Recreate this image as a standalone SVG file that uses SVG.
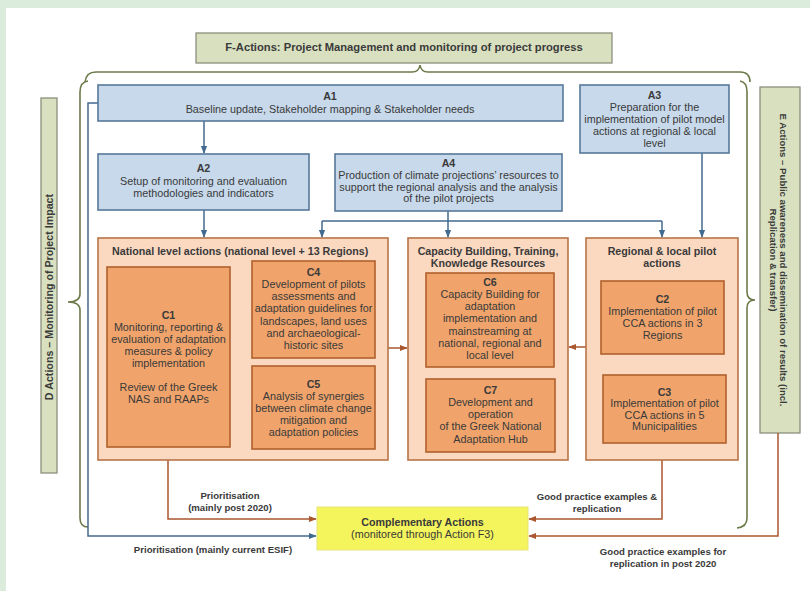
<svg xmlns="http://www.w3.org/2000/svg" width="810" height="591" viewBox="0 0 810 591">
<style>
text{font-family:"Liberation Sans",Arial,sans-serif;font-size:10.8px;fill:#3a3a3a;text-anchor:middle}
.b{font-weight:bold;font-size:10.7px}
.s{font-weight:bold;font-size:9.6px}
.l{text-anchor:start}
.blue{fill:#c7d9eb;stroke:#56789a;stroke-width:1.6}
.panel{fill:#fbd9c0;stroke:#b97448;stroke-width:1.6}
.inner{fill:#f0a46b;stroke:#b0602c;stroke-width:1.6}
.olive{fill:#d8e0bf;stroke:#8c8f7c;stroke-width:1.3}
.comp{fill:#f4f45c;stroke:#e6e67a;stroke-width:1}
.brace{fill:none;stroke:#6d7b4b;stroke-width:1.6}
.cb{fill:none;stroke:#42698f;stroke-width:1.5}
.cr{fill:none;stroke:#a9572e;stroke-width:1.5}
</style>
<defs>
<marker id="ab" viewBox="0 0 10 10" refX="9" refY="5" markerWidth="8" markerHeight="8" markerUnits="userSpaceOnUse" orient="auto-start-reverse"><path d="M0,1 L10,5 L0,9 z" fill="#42698f"/></marker>
<marker id="ar" viewBox="0 0 10 10" refX="9" refY="5" markerWidth="8" markerHeight="8" markerUnits="userSpaceOnUse" orient="auto-start-reverse"><path d="M0,1 L10,5 L0,9 z" fill="#a9572e"/></marker>
</defs>
<rect x="0" y="0" width="810" height="591" fill="#dcecdc"/>
<rect x="6" y="8" width="804" height="583" fill="#ffffff"/>

<g id="braces">
<path class="brace" d="M85,82 Q86,72 96,72 L412,72 Q419,72 420,65 Q421,72 428,72 L740,72 Q750,72 750,82"/>
<path class="brace" d="M88,81 Q80,82 80,92 L80,294 Q80,302 68,302 Q80,302 80,310 L80,518 Q80,527 88,527"/>
<path class="brace" d="M740,81 Q747,82 747,92 L747,292 Q747,300 755,300 Q747,300 747,308 L747,518 Q747,527 737,528"/>
</g>

<g id="F">
<rect class="olive" x="196" y="33" width="416" height="30"/>
<text class="b" x="404" y="51" style="font-size:11.2px">F-Actions: Project Management and monitoring of project progress</text>
</g>
<g id="D">
<rect class="olive" x="41" y="98" width="16" height="375"/>
<text class="b" transform="translate(53,297) rotate(-90)">D Actions – Monitoring of Project Impact</text>
</g>
<g id="E">
<rect class="olive" x="760" y="87" width="40" height="346"/>
<text class="s" transform="translate(779.5,260) rotate(90)">E Actions – Public awareness and dissemination of results (incl.</text>
<text class="s" transform="translate(769.5,260) rotate(90)">Replication &amp; transfer)</text>
</g>

<g id="connectors">
<path class="cb" d="M98,103 H88 V536 H316" marker-end="url(#ab)"/>
<path class="cb" d="M204,121 V153" marker-end="url(#ab)"/>
<path class="cb" d="M204,210 V237" marker-end="url(#ab)"/>
<path class="cb" d="M448,211 V237" marker-end="url(#ab)"/>
<path class="cb" d="M322,221 H662"/>
<path class="cb" d="M322,221 V237" marker-end="url(#ab)"/>
<path class="cb" d="M662,221 V237" marker-end="url(#ab)"/>
<path class="cb" d="M702,153 V237" marker-end="url(#ab)"/>
<path class="cr" d="M388,348 H407" marker-end="url(#ar)"/>
<path class="cr" d="M586,347 H569" marker-end="url(#ar)"/>
<path class="cr" d="M231,309 H251" marker-start="url(#ar)" marker-end="url(#ar)"/>
<path class="cr" d="M231,408 H251" marker-start="url(#ar)" marker-end="url(#ar)"/>
<path class="cr" d="M168,460 V519 H316" marker-end="url(#ar)"/>
<path class="cr" d="M662,460 V519 H529" marker-end="url(#ar)"/>
<path class="cr" d="M778,433 V536 H529" marker-end="url(#ar)"/>
<text class="s" x="230" y="499">Prioritisation</text>
<text class="s" x="230" y="511">(mainly post 2020)</text>
<text class="s" x="213" y="552.5">Prioritisation (mainly current ESIF)</text>
<text class="s" x="597" y="500">Good practice examples &amp;</text>
<text class="s" x="597" y="512">replication</text>
<text class="s" x="663" y="554.5">Good practice examples for</text>
<text class="s" x="663" y="566.5">replication in post 2020</text>
</g>

<g id="A1">
<rect class="blue" x="98" y="85" width="465" height="36"/>
<text class="b" x="330" y="100">A1</text>
<text x="330" y="112.5">Baseline update, Stakeholder mapping &amp; Stakeholder needs</text>
</g>
<g id="A3">
<rect class="blue" x="580" y="85" width="149" height="68"/>
<text class="b" x="654.5" y="98.5">A3</text>
<text x="654.5" y="110.5">Preparation for the</text>
<text x="654.5" y="122.5">implementation of pilot model</text>
<text x="654.5" y="134.8">actions at regional &amp; local</text>
<text x="654.5" y="147">level</text>
</g>
<g id="A2">
<rect class="blue" x="98" y="154" width="211" height="56"/>
<text class="b" x="203.5" y="171.5">A2</text>
<text x="203.5" y="184.5">Setup of monitoring and evaluation</text>
<text x="203.5" y="196.5">methodologies and indicators</text>
</g>
<g id="A4">
<rect class="blue" x="335" y="154" width="227" height="57"/>
<text class="b" x="448.5" y="166.5">A4</text>
<text x="448.5" y="178.5">Production of climate projections’ resources to</text>
<text x="448.5" y="190.5">support the regional analysis and the analysis</text>
<text x="448.5" y="202">of the pilot projects</text>
</g>

<g id="national">
<rect class="panel" x="98" y="238" width="290" height="222"/>
<text class="b l" x="112" y="254.5">National level actions (national level + 13 Regions)</text>
</g>
<g id="C1">
<rect class="inner" x="107" y="267" width="123" height="180"/>
<text class="b" x="168.5" y="318.5">C1</text>
<text x="168.5" y="330.5">Monitoring, reporting &amp;</text>
<text x="168.5" y="342.5">evaluation of adaptation</text>
<text x="168.5" y="354.5">measures &amp; policy</text>
<text x="168.5" y="366.5">implementation</text>
<text x="168.5" y="391">Review of the Greek</text>
<text x="168.5" y="403">NAS and RAAPs</text>
</g>
<g id="C4">
<rect class="inner" x="252" y="261" width="123" height="97"/>
<text class="b" x="313.5" y="275.5">C4</text>
<text x="313.5" y="287.8">Development of pilots</text>
<text x="313.5" y="300.1">assessments and</text>
<text x="313.5" y="312.4">adaptation guidelines for</text>
<text x="313.5" y="324.7">landscapes, land uses</text>
<text x="313.5" y="337">and archaeological-</text>
<text x="313.5" y="349.3">historic sites</text>
</g>
<g id="C5">
<rect class="inner" x="252" y="366" width="123" height="83"/>
<text class="b" x="313.5" y="387.5">C5</text>
<text x="313.5" y="399.5">Analysis of synergies</text>
<text x="313.5" y="411.5">between climate change</text>
<text x="313.5" y="423.5">mitigation and</text>
<text x="313.5" y="435.5">adaptation policies</text>
</g>

<g id="capacity">
<rect class="panel" x="408" y="238" width="160" height="222"/>
<text class="b" x="488" y="254.5">Capacity Building, Training,</text>
<text class="b" x="488" y="266.5">Knowledge Resources</text>
</g>
<g id="C6">
<rect class="inner" x="426" y="273" width="128" height="94"/>
<text class="b" x="490" y="285.5">C6</text>
<text x="490" y="297.8">Capacity Building for</text>
<text x="490" y="310.1">adaptation</text>
<text x="490" y="322.4">implementation and</text>
<text x="490" y="334.7">mainstreaming at</text>
<text x="490" y="347">national, regional and</text>
<text x="490" y="359.3">local level</text>
</g>
<g id="C7">
<rect class="inner" x="426" y="379" width="129" height="73"/>
<text class="b" x="490.5" y="393.5">C7</text>
<text x="490.5" y="405.8">Development and</text>
<text x="490.5" y="418.1">operation</text>
<text x="490.5" y="430.4">of the Greek National</text>
<text x="490.5" y="442.7">Adaptation Hub</text>
</g>

<g id="regional">
<rect class="panel" x="586" y="238" width="152" height="222"/>
<text class="b" x="662" y="254.5">Regional &amp; local pilot</text>
<text class="b" x="662" y="266.5">actions</text>
</g>
<g id="C2">
<rect class="inner" x="601" y="281" width="123" height="73"/>
<text class="b" x="662.5" y="302.5">C2</text>
<text x="662.5" y="314.8">Implementation of pilot</text>
<text x="662.5" y="327.1">CCA actions in 3</text>
<text x="662.5" y="339.4">Regions</text>
</g>
<g id="C3">
<rect class="inner" x="603" y="375" width="123" height="68"/>
<text class="b" x="664.5" y="395.5">C3</text>
<text x="664.5" y="407">Implementation of pilot</text>
<text x="664.5" y="418.5">CCA actions in 5</text>
<text x="664.5" y="430">Municipalities</text>
</g>

<g id="complementary">
<rect class="comp" x="317" y="507" width="211" height="43"/>
<text class="b" x="422.5" y="525.5">Complementary Actions</text>
<text x="422.5" y="537.5">(monitored through Action F3)</text>
</g>
</svg>
